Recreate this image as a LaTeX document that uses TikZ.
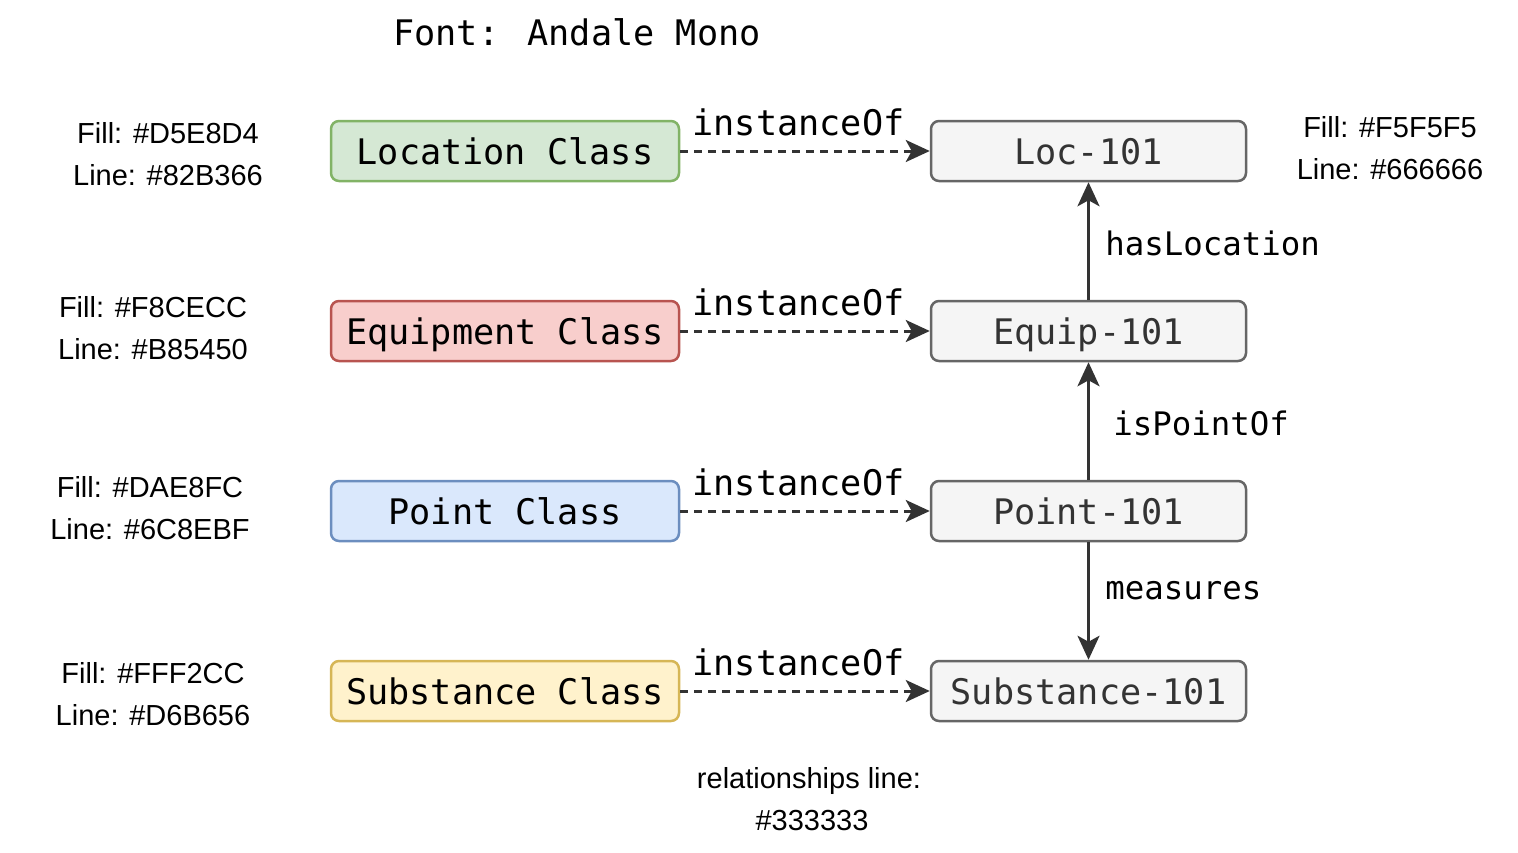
\documentclass[tikz,border=0pt]{standalone}
\usepackage{fontspec}
\setmainfont{Liberation Sans}
\newfontfamily\monofont{DejaVu Sans Mono}
\usetikzlibrary{arrows.meta}
\definecolor{locfill}{HTML}{D5E8D4}\definecolor{locline}{HTML}{82B366}
\definecolor{eqfill}{HTML}{F8CECC}\definecolor{eqline}{HTML}{B85450}
\definecolor{ptfill}{HTML}{DAE8FC}\definecolor{ptline}{HTML}{6C8EBF}
\definecolor{subfill}{HTML}{FFF2CC}\definecolor{subline}{HTML}{D6B656}
\definecolor{instfill}{HTML}{F5F5F5}\definecolor{instline}{HTML}{666666}
\definecolor{relcol}{HTML}{333333}
\begin{document}
\begin{tikzpicture}[x=0.5pt,y=-0.5pt,
  box/.style={draw, rounded corners=4pt, line width=1.25pt, minimum height=30pt,
    inner sep=0pt, text height=13pt, text depth=0pt,
    font=\monofont\fontsize{17.6}{20}\selectfont},
  cls/.style={box, minimum width=174pt},
  inst/.style={box, minimum width=157.5pt, fill=instfill, draw=instline, text=relcol},
  rel/.style={draw=relcol, line width=1.5pt, -{Stealth[length=12pt,width=11pt,inset=3pt]}},
  dashrel/.style={rel, dash pattern=on 4pt off 3pt},
  lbl/.style={font=\monofont\fontsize{17.6}{20}\selectfont, inner sep=0pt},
  rlbl/.style={font=\monofont\fontsize{16.2}{19}\selectfont, inner sep=0pt, anchor=base west},
  note/.style={font=\fontsize{14.5}{17}\selectfont, inner sep=0pt, anchor=base}
]
\useasboundingbox (0,0) rectangle (1518,852);

% title
\node[lbl, anchor=base] (title) at (577,45) {Font: Andale Mono};

% class boxes
\node[cls, fill=locfill, draw=locline] (lc) at (505,151) {Location Class};
\node[cls, fill=eqfill, draw=eqline] (ec) at (505,331) {Equipment Class};
\node[cls, fill=ptfill, draw=ptline] (pc) at (505,511) {Point Class};
\node[cls, fill=subfill, draw=subline] (sc) at (505,691) {Substance Class};

% instance boxes
\node[inst] (li) at (1088.5,151) {Loc-101};
\node[inst] (ei) at (1088.5,331) {Equip-101};
\node[inst] (pi) at (1088.5,511) {Point-101};
\node[inst] (si) at (1088.5,691) {Substance-101};

% instanceOf connectors
\draw[dashrel] (lc) -- (li);
\draw[dashrel] (ec) -- (ei);
\draw[dashrel] (pc) -- (pi);
\draw[dashrel] (sc) -- (si);
\node[lbl, anchor=base] (l1) at (798.5,135) {instanceOf};
\node[lbl, anchor=base] (l2) at (798.5,315) {instanceOf};
\node[lbl, anchor=base] (l3) at (798.5,495) {instanceOf};
\node[lbl, anchor=base] (l4) at (798.5,675) {instanceOf};

% relationships
\draw[rel] (ei.north) -- (li.south);
\draw[rel] (pi.north) -- (ei.south);
\draw[rel] (pi.south) -- (si.north);
\node[rlbl] (hl) at (1105,255) {hasLocation};
\node[rlbl] (ip) at (1113,435) {isPointOf};
\node[rlbl] (ms) at (1105,599) {measures};

% notes
\node[note] (n1a) at (168,143) {Fill: \#D5E8D4};
\node[note] (n1b) at (168,185) {Line: \#82B366};
\node[note] (n2a) at (153,317) {Fill: \#F8CECC};
\node[note] (n2b) at (153,359) {Line: \#B85450};
\node[note] (n3a) at (150,497) {Fill: \#DAE8FC};
\node[note] (n3b) at (150,539) {Line: \#6C8EBF};
\node[note] (n4a) at (153,683) {Fill: \#FFF2CC};
\node[note] (n4b) at (153,725) {Line: \#D6B656};
\node[note] (nra) at (1390,137) {Fill: \#F5F5F5};
\node[note] (nrb) at (1390,179) {Line: \#666666};
\node[note] (nba) at (809,788) {relationships line:};
\node[note] (nbb) at (812,830) {\#333333};
\end{tikzpicture}
\end{document}
